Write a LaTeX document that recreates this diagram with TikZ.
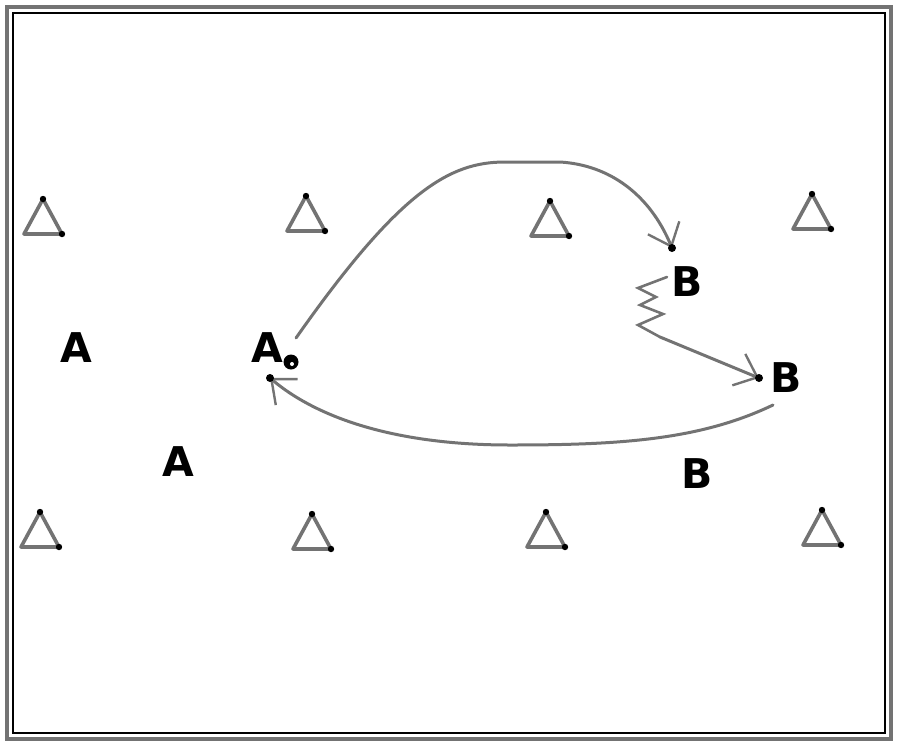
\documentclass[tikz,border=0pt]{standalone}
\usepackage{fontspec}
\newfontfamily\drillfont{DejaVu Sans}
\usetikzlibrary{arrows.meta}
\tikzset{
    run/.style={draw=black!55, line width=3pt, line cap=round},
    pass/.style={run, -{Straight Barb[length=20pt,width=34pt,line width=2.4pt]}},
    player/.style={font=\drillfont\bfseries\fontsize{41}{41}\selectfont, inner sep=0pt},
    cone/.pic={
        \draw[black!55, line width=3.6pt, line join=round] (0,-18) -- (19,17) -- (-19,17) -- cycle;
        \fill (0,-18) circle (3.2);
        \fill (19,17) circle (3.2);
    }
}
\begin{document}
\begin{tikzpicture}[x=1pt,y=-1pt]
    \useasboundingbox (0,0) rectangle (900,748);
    % field
    \draw[black!55, line width=4pt] (7,7) rectangle (891,739);
    \draw[line width=1.4pt] (13,13) rectangle (885,733);

    % cones
    \pic at (43,217) {cone};
    \pic at (306,214) {cone};
    \pic at (550,219) {cone};
    \pic at (812,212) {cone};
    \pic at (40,530) {cone};
    \pic at (312,532) {cone};
    \pic at (546,530) {cone};
    \pic at (822,528) {cone};

    % players
    \node[player] (a1) at (76,348) {A};
    \node[player] (a2) at (267,348) {A};
    \node[player] (a3) at (178,462) {A};
    \node[player] (b1) at (687,282) {B};
    \node[player] (b2) at (786,378) {B};
    \node[player] (b3) at (697,474) {B};
    \fill (291,362) circle (7.5);
    \fill[white] (292,364) circle (2);

    % runs
    \coordinate (s1) at (296,338);
    \coordinate (e1) at (672,248);
    \coordinate (z0) at (667,277);
    \coordinate (s2) at (660,337);
    \coordinate (e2) at (759,378);
    \coordinate (s3) at (773,405);
    \coordinate (e3) at (270,378);

    \draw[pass] (s1) .. controls (400,190) and (450,162) .. (505,162) -- (560,162) .. controls (610,165) and (650,195) .. (e1);
    \draw[run, line width=2.6pt] (z0) -- (638,288) -- (656,297) -- (640,305) -- (663,314) -- (638,325) -- (s2);
    \draw[pass] (s2) -- (e2);
    \draw[pass] (s3) .. controls (700,440) and (620,445) .. (510,445) .. controls (400,445) and (320,420) .. (e3);
    \fill (e1) circle (4);
    \fill (e2) circle (4);
    \fill (e3) circle (4);
\end{tikzpicture}
\end{document}
